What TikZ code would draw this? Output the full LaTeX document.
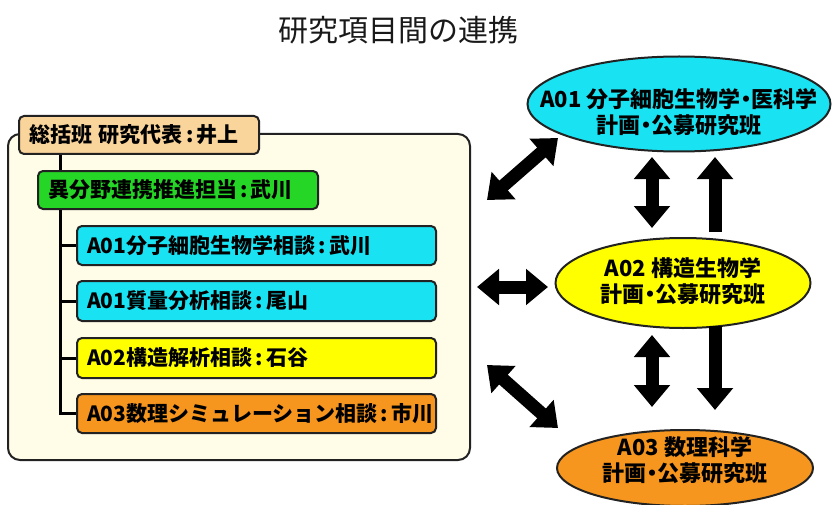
\documentclass[tikz,border=0pt]{standalone}
\usepackage{fontspec}
\setmainfont{Noto Sans CJK JP}
\usetikzlibrary{arrows.meta,shapes.geometric,calc}
\definecolor{cream}{HTML}{FFFCE8}
\definecolor{tan}{HTML}{F9D49B}
\definecolor{grn}{HTML}{26D626}
\definecolor{cyn}{HTML}{19E3F3}
\definecolor{yel}{HTML}{FFFF00}
\definecolor{org}{HTML}{F7961E}
\definecolor{edge}{HTML}{222222}
\newcommand{\cln}{\kern0.15em:\kern0.15em}
\newcommand{\mdot}{\kern-0.25em・\kern-0.25em}
\tikzset{
  box/.style={draw=edge, line width=2pt, rounded corners=5pt, anchor=north west,
    inner xsep=10pt, inner ysep=0pt, align=left, font=\fontsize{21}{25}\selectfont\bfseries},
  oval/.style={ellipse, draw=edge, line width=2pt, inner sep=0pt},
  ovaltext/.style={align=center, font=\fontsize{22}{26}\selectfont\bfseries},
  tree/.style={line width=3pt, draw=black},
  bigarrow/.style={line width=13pt, draw=black, {Triangle[width=35pt,length=22pt]}-{Triangle[width=35pt,length=22pt]}},
  onearrow/.style={line width=13pt, draw=black, -{Triangle[width=35pt,length=22pt]}}
}
\begin{document}
\begin{tikzpicture}[x=1pt,y=-1pt]
\useasboundingbox (0,0) rectangle (834,505);
% title
\node[font=\fontsize{30}{34}\selectfont, text=black!90] (title) at (398,30) {研究項目間の連携};
% outer box
\draw[draw=edge, line width=2pt, fill=cream, rounded corners=12pt] (8,134) rectangle (470,460);
% boxes
\node[box, fill=tan, text width=220pt, minimum height=38pt] (B1) at (18,115) {総括班 研究代表\cln 井上};
\node[box, fill=grn, text width=260pt, minimum height=38pt] (B2) at (37,170) {異分野連携推進担当\cln 武川};
\node[box, fill=cyn, text width=339pt, minimum height=39pt] (B3) at (76,225) {A01分子細胞生物学相談\cln 武川};
\node[box, fill=cyn, text width=339pt, minimum height=40pt] (B4) at (76,280) {A01質量分析相談\cln 尾山};
\node[box, fill=yel, text width=339pt, minimum height=40pt] (B5) at (76,337) {A02構造解析相談\cln 石谷};
\node[box, fill=org, text width=339pt, minimum height=39pt] (B6) at (76,393) {A03数理シミュレーション相談\cln 市川};
% tree lines
\coordinate (tx) at (60,0);
\draw[tree] (B1.south -| tx) -- (B2.north -| tx);
\draw[tree] (B2.south -| tx) |- (B6.west);
\draw[tree] (B3.west -| tx) -- (B3.west);
\draw[tree] (B4.west -| tx) -- (B4.west);
\draw[tree] (B5.west -| tx) -- (B5.west);
% ellipses
\node[oval, fill=cyn, minimum width=303pt, minimum height=95pt] (E1) at (679,104) {};
\node[ovaltext] (T1) at (679,112) {A01 分子細胞生物学\mdot 医科学\\計画\mdot 公募研究班};
\node[oval, fill=yel, minimum width=255pt, minimum height=90pt] (E2) at (683,283) {};
\node[ovaltext] (T2) at (683,281) {A02 構造生物学\\計画\mdot 公募研究班};
\node[oval, fill=org, minimum width=256pt, minimum height=76pt] (E3) at (685,468) {};
\node[ovaltext] (T3) at (685,460) {A03 数理科学\\計画\mdot 公募研究班};
% arrows
\coordinate (a1) at (487,200); \coordinate (a2) at (558,138);
\coordinate (b1) at (477,287); \coordinate (b2) at (548,287);
\coordinate (c1) at (487,365); \coordinate (c2) at (558,428);
\coordinate (d1) at (652,157); \coordinate (d2) at (652,228);
\coordinate (e1) at (715,232); \coordinate (e2) at (715,157);
\coordinate (f1) at (652,335); \coordinate (f2) at (652,407);
\coordinate (g1) at (715,326); \coordinate (g2) at (715,410);
\draw[bigarrow] (a1) -- (a2);
\draw[bigarrow] (b1) -- (b2);
\draw[bigarrow] (c1) -- (c2);
\draw[bigarrow] (d1) -- (d2);
\draw[onearrow] (e1) -- (e2);
\draw[bigarrow] (f1) -- (f2);
\draw[onearrow] (g1) -- (g2);
\end{tikzpicture}
\end{document}
